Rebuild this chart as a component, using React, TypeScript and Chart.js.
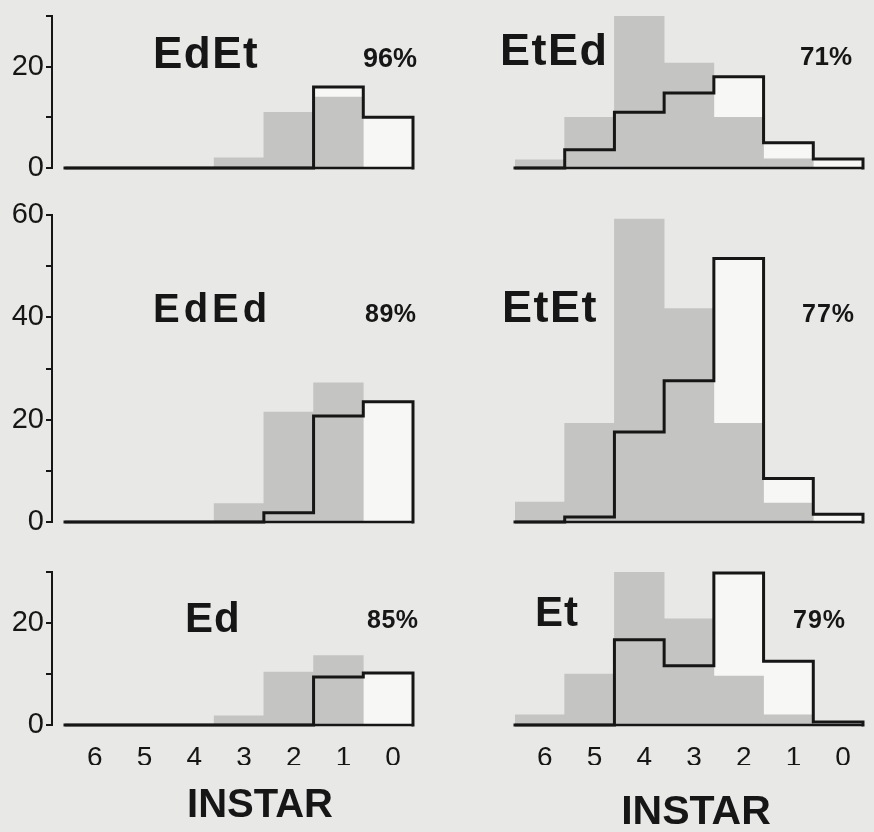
import React, { useEffect, useRef } from 'react';
import { Chart, registerables } from 'chart.js';

Chart.register(...registerables);

// ---------- data ----------
const INSTAR_LABELS = ['6', '5', '4', '3', '2', '1', '0'];

const EDET_GREY = [0, 0, 0, 2, 11, 14, 0];
const EDET_OPEN = [0, 0, 0, 0, 0, 16, 10];
const ETED_GREY = [1.6, 10, 30, 20.7, 10, 1.8, 0];
const ETED_OPEN = [0, 3.6, 11, 14.8, 18, 5, 1.8];
const EDED_GREY = [0, 0, 0, 3.6, 21.5, 27.2, 0];
const EDED_OPEN = [0, 0, 0, 0, 1.8, 20.7, 23.5];
const ETET_GREY = [3.9, 19.3, 59.2, 41.7, 19.3, 3.7, 0];
const ETET_OPEN = [0, 1, 17.6, 27.6, 51.5, 8.5, 1.5];
const ED_GREY = [0, 0, 0, 1.8, 10.4, 13.6, 0];
const ED_OPEN = [0, 0, 0, 0, 0, 9.4, 10.2];
const ET_GREY = [2, 10, 30, 20.8, 9.6, 2, 0];
const ET_OPEN = [0, 0, 16.7, 11.6, 29.8, 12.5, 0.6];

const TITLES = ['EdEt', 'EtEd', 'EdEd', 'EtEt', 'Ed', 'Et'];
const PERCENTS = ['96%', '71%', '89%', '77%', '85%', '79%'];
const ROW_Y_MAX = [30, 60, 30];
const AXIS_TITLE = 'INSTAR';

// ---------- styling / layout ----------
const BG = '#e8e8e6';
const GREY = '#c4c4c2';
const OPEN_FILL = '#f7f7f5';
const INK = '#161616';
const FONT = '"Liberation Sans", Arial, Helvetica, sans-serif';

type PanelDef = {
  grey: number[];
  open: number[];
  row: number;
  col: number;
};

const PANELS: PanelDef[] = [
  { grey: EDET_GREY, open: EDET_OPEN, row: 0, col: 0 },
  { grey: ETED_GREY, open: ETED_OPEN, row: 0, col: 1 },
  { grey: EDED_GREY, open: EDED_OPEN, row: 1, col: 0 },
  { grey: ETET_GREY, open: ETET_OPEN, row: 1, col: 1 },
  { grey: ED_GREY, open: ED_OPEN, row: 2, col: 0 },
  { grey: ET_GREY, open: ET_OPEN, row: 2, col: 1 },
];

// canvas boxes and paddings
const COLS = [
  { x: 0, w: 430, padL: 0, padR: 17 },
  { x: 440, w: 434, padL: 75, padR: 11 },
];
const ROWS = [
  { y: 0, h: 190, padT: 16, padB: 22 },
  { y: 190, h: 350, padT: 25, padB: 18 },
  { y: 540, h: 292, padT: 32, padB: 67 },
];
const Y_AXIS_W = 52;
const X_AXIS_H = 40;

const TEXTS = [
  // title text, left, baseline, size, letterSpacing
  { t: TITLES[0], x: 153, b: 68, s: 44, ls: 1.5 },
  { t: PERCENTS[0], x: 363, b: 68, s: 27, ls: 0 },
  { t: TITLES[1], x: 500, b: 65, s: 45, ls: 1.5 },
  { t: PERCENTS[1], x: 800, b: 65, s: 26, ls: 0 },
  { t: TITLES[2], x: 153, b: 322, s: 40, ls: 4 },
  { t: PERCENTS[2], x: 365, b: 322, s: 25, ls: 0.5 },
  { t: TITLES[3], x: 502, b: 322, s: 45, ls: 1.5 },
  { t: PERCENTS[3], x: 802, b: 322, s: 25, ls: 1 },
  { t: TITLES[4], x: 185, b: 633, s: 42, ls: 1 },
  { t: PERCENTS[4], x: 367, b: 628, s: 25, ls: 0.5 },
  { t: TITLES[5], x: 535, b: 627, s: 42, ls: 1 },
  { t: PERCENTS[5], x: 793, b: 628, s: 25, ls: 1 },
];

function stepPoints(vals: number[]) {
  const pts: { x: number; y: number }[] = [{ x: -0.5, y: 0 }];
  vals.forEach((v, i) => {
    pts.push({ x: i - 0.5, y: v });
    pts.push({ x: i + 0.5, y: v });
  });
  pts.push({ x: vals.length - 0.5, y: 0 });
  return pts;
}

function Panel({ p }: { p: PanelDef }) {
  const ref = useRef<HTMLCanvasElement>(null);
  const col = COLS[p.col];
  const row = ROWS[p.row];
  const isLeft = p.col === 0;
  const isBottom = p.row === 2;
  const n = INSTAR_LABELS.length;
  // left panels: axis line sits a little left of the first bin
  const xMin = isLeft ? -0.5 - 13 / ((413 - 65) / n) : -0.5;

  useEffect(() => {
    if (!ref.current) return;
    const chart = new Chart(ref.current, {
      type: 'bar',
      data: {
        datasets: [
          {
            type: 'line',
            data: stepPoints(p.open),
            fill: 'origin',
            backgroundColor: OPEN_FILL,
            borderWidth: 0,
            pointRadius: 0,
            tension: 0,
            order: 4,
            clip: false,
          } as any,
          {
            type: 'bar',
            data: p.grey.map((v, i) => ({ x: i, y: v })),
            backgroundColor: GREY,
            borderWidth: 0,
            barPercentage: 1,
            categoryPercentage: 1,
            order: 3,
          } as any,
          {
            type: 'line',
            data: [
              { x: -0.5, y: 0 },
              { x: n - 0.5, y: 0 },
            ],
            borderColor: INK,
            borderWidth: 2.5,
            pointRadius: 0,
            fill: false,
            order: 2,
            clip: false,
          } as any,
          {
            type: 'line',
            data: stepPoints(p.open),
            borderColor: INK,
            borderWidth: 3,
            borderJoinStyle: 'miter',
            borderCapStyle: 'square',
            pointRadius: 0,
            tension: 0,
            fill: false,
            order: 1,
            clip: false,
          } as any,
        ],
      },
      options: {
        responsive: false,
        animation: false,
        devicePixelRatio: 1,
        layout: {
          padding: {
            left: col.padL,
            right: col.padR,
            top: row.padT,
            bottom: row.padB,
          },
        },
        plugins: {
          legend: { display: false },
          tooltip: { enabled: false },
          title: { display: false },
        },
        scales: {
          x: {
            type: 'linear',
            min: xMin,
            max: n - 0.5,
            offset: false,
            display: isBottom,
            grid: { display: false, offset: false },
            border: { display: false },
            afterBuildTicks: (s: any) => {
              s.ticks = INSTAR_LABELS.map((_, i) => ({ value: i }));
            },
            afterFit: (s: any) => {
              if (!isBottom) return;
              s.height = X_AXIS_H;
              s.paddingLeft = 0;
              s.paddingRight = 0;
            },
            ticks: {
              autoSkip: false,
              maxRotation: 0,
              padding: 8,
              labelOffset: 5,
              color: INK,
              font: { family: FONT, size: 28 },
              callback: (v: any) => INSTAR_LABELS[Math.round(Number(v))] ?? '',
            },
          },
          y: {
            type: 'linear',
            min: 0,
            max: ROW_Y_MAX[p.row],
            display: isLeft,
            grid: {
              display: true,
              drawOnChartArea: false,
              drawTicks: true,
              tickLength: 6,
              color: INK,
              lineWidth: 2,
            },
            border: { display: true, color: INK, width: 2 },
            afterFit: (s: any) => {
              if (!isLeft) return;
              s.width = Y_AXIS_W;
              s.paddingTop = 0;
              s.paddingBottom = 0;
            },
            ticks: {
              stepSize: 10,
              padding: 2,
              color: INK,
              font: { family: FONT, size: 29 },
              callback: (v: any) => (Number(v) % 20 === 0 ? String(v) : ''),
            },
          },
        },
      } as any,
    });
    return () => chart.destroy();
  }, []);

  return (
    <canvas
      ref={ref}
      width={col.w}
      height={row.h}
      style={{
        position: 'absolute',
        left: col.x,
        top: row.y,
        width: col.w,
        height: row.h,
      }}
    />
  );
}

function Label({ t, x, b, s, ls, bold = true }: any) {
  return (
    <div
      style={{
        position: 'absolute',
        left: x,
        top: b - 0.8465 * s,
        fontFamily: FONT,
        fontWeight: bold ? 700 : 400,
        fontSize: s,
        lineHeight: `${s}px`,
        letterSpacing: ls,
        color: INK,
        whiteSpace: 'nowrap',
      }}
    >
      {t}
    </div>
  );
}

function CenterLabel({ t, cx, b, s }: any) {
  return (
    <div
      style={{
        position: 'absolute',
        left: cx - 150,
        width: 300,
        textAlign: 'center',
        top: b - 0.8465 * s,
        fontFamily: FONT,
        fontWeight: 700,
        fontSize: s,
        lineHeight: `${s}px`,
        color: INK,
        whiteSpace: 'nowrap',
      }}
    >
      {t}
    </div>
  );
}

export default function App() {
  return (
    <div
      style={{
        position: 'fixed',
        left: 0,
        top: 0,
        width: 874,
        height: 832,
        background: BG,
        overflow: 'hidden',
      }}
    >
      {PANELS.map((p, i) => (
        <Panel key={i} p={p} />
      ))}
      {TEXTS.map((tx, i) => (
        <Label key={i} {...tx} />
      ))}
      <CenterLabel t={AXIS_TITLE} cx={260} b={817} s={40} />
      <CenterLabel t={AXIS_TITLE} cx={696} b={825} s={41} />
    </div>
  );
}
